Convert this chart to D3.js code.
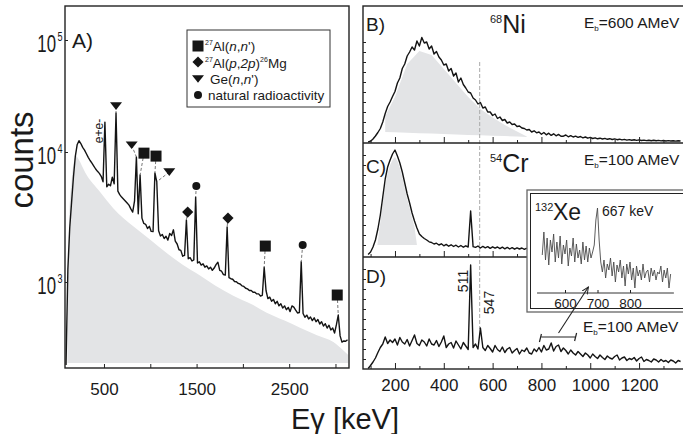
<!DOCTYPE html>
<meta charset="utf-8">
<style>
body { margin: 0; background: #fff; }
svg text { font-family: "Liberation Sans", Arial, Helvetica, sans-serif; fill: #1a1a1a; }
.spec { fill: none; stroke: #141414; stroke-width: 1.4; stroke-linejoin: round; }
.bg { fill: #e3e4e6; }
.frame { fill: none; stroke: #222; stroke-width: 1.4; }
.tick line { stroke: #222; }
.guide { stroke: #777; stroke-width: 1; stroke-dasharray: 3,2; fill: none; }
</style>
<svg width="683" height="434">
  <defs>
    <marker id="arrow" viewBox="0 0 10 10" refX="9" refY="5" markerWidth="7" markerHeight="7" orient="auto">
      <path d="M0,1 L9,5 L0,9" fill="none" stroke="#222" stroke-width="1.3"></path>
    </marker>
  </defs>
</svg>
<script src="https://d3js.org/d3.v7.min.js"></script>
<script>

// ---------- data ----------
// A) summed spectrum, 20 keV bins from 90 keV
var aStart = 90, aStep = 20;
var aCounts = [
  230, 1250, 2600, 4100, 6400, 9200, 11600, 12600, 11900, 11000,
  10400, 9700, 9100, 8600, 8200, 7800, 7400, 7100, 6850, 6500,
  5900, 18500, 5400, 5650, 5500, 6400, 5700, 22300, 5000, 4700,
  4500, 4350, 4200, 4050, 3900, 3650, 3450, 4200, 9150, 3350,
  6650, 3100, 2820, 2780, 2580, 2680, 2450, 2440, 6900, 5900,
  2480, 2260, 2320, 2160, 2250, 2100, 2360, 2280, 2520, 2060,
  1960, 1770, 1750, 1580, 1600, 3000, 1510, 1540, 1450, 1480,
  4500, 1400, 1430, 1350, 1380, 1300, 1330, 1260, 1300, 1230,
  1280, 1360, 1420, 1230, 1210, 1140, 1130, 2650, 1080, 1060,
  1050, 1010, 1005, 975, 965, 935, 925, 895, 885, 860,
  860, 835, 835, 810, 810, 780, 790, 1300, 860, 745,
  765, 710, 735, 680, 710, 655, 680, 630, 655, 612,
  638, 592, 655, 640, 608, 578, 582, 1430, 572, 535,
  556, 520, 538, 505, 530, 495, 515, 475, 495, 458,
  478, 442, 465, 428, 442, 405, 470, 557, 385, 345,
  352, 350, 360
];
// grey background shape under A
var aBgEnergy = [105, 112, 125, 150, 175, 200, 225, 300, 456, 600, 816, 1000, 1177, 1350, 1537, 1700, 1896, 2100, 2257, 2450, 2617, 2800, 2977, 3080, 3138];
var aBgCounts = [238, 900, 3000, 6000, 8400, 9300, 8800, 6900, 4950, 3700, 2680, 2110, 1670, 1355, 1120, 940, 785, 670, 580, 505, 445, 390, 345, 300, 275];
var aBgFloor = 238;

var aTicks = [500, 1000, 1500, 2000, 2500, 3000];
var aTickLabels = ["500", "", "1500", "", "2500", ""];
var aDecades = [1e3, 1e4, 1e5];
var aDecadeExp = ["3", "4", "5"];

// peak markers in A
var mkType   = ["tri", "tri", "sq", "sq", "tri", "circ", "dia", "dia", "sq", "circ", "sq"];
var mkEnergy = [630, 799, 932, 1062, 1205, 1497, 1404, 1839, 2242, 2646, 3019];
var mkCounts = [25700, 11500, 9800, 9300, 7000, 5470, 3450, 3100, 1890, 1930, 794];
var pkEnergy = [630, 850, 890, 1050, 1070, 1490, 1390, 1830, 2230, 2630, 3030];
var pkCounts = [22300, 9150, 6650, 6900, 5900, 4500, 3000, 2650, 1300, 1430, 557];

// B) C) D) 10 keV bins from 90 keV
var rStart = 90, rStep = 10;
var bCounts = [
  0, 8, 30, 60, 95, 135, 200, 285, 355, 400,
  455, 505, 590, 640, 735, 780, 860, 900, 950, 920,
  1010, 960, 1045, 990, 1000, 930, 960, 880, 905, 850,
  820, 770, 780, 710, 735, 660, 690, 600, 640, 575,
  540, 500, 490, 440, 420, 380, 395, 340, 350, 300,
  300, 265, 280, 235, 250, 215, 225, 190, 200, 175,
  180, 155, 160, 140, 135, 120, 125, 100, 112, 92,
  100, 78, 95, 72, 88, 66, 82, 62, 76, 58,
  58, 70, 52, 64, 50, 58, 46, 55, 42, 50,
  38, 46, 35, 42, 32, 38, 30, 36, 27, 33,
  25, 31, 23, 28, 21, 26, 19, 24, 18, 22,
  16, 21, 15, 19, 14, 18, 13, 17, 12, 16,
  11, 15, 10, 14, 10, 13, 9, 12, 10
];
var bBgEnergy = [160, 200, 250, 300, 350, 400, 450, 500, 550, 600, 650, 700, 740];
var bBgHi = [260, 450, 780, 910, 870, 730, 590, 450, 330, 245, 170, 105, 55];
var bBgLo = [100, 97, 92, 88, 84, 80, 75, 71, 67, 63, 59, 54, 50];

var cCounts = [
  5, 30, 80, 150, 260, 400, 580, 760, 880, 950,
  1010, 1050, 990, 920, 830, 720, 610, 520, 420, 340,
  270, 210, 185, 165, 150, 132, 125, 110, 118, 100,
  112, 92, 106, 88, 102, 85, 98, 80, 95, 78,
  92, 80, 440, 84, 76, 90, 70, 86, 72, 84,
  66, 82, 68, 80, 64, 78, 62, 76, 60, 74,
  58, 72, 60, 70, 56, 68
];
var cBgEnergy = [128, 140, 150, 160, 170, 180, 190, 200, 210, 220, 230, 240, 250, 260, 270, 280, 290];
var cBgHi = [100, 330, 520, 700, 820, 900, 950, 980, 940, 870, 780, 670, 560, 470, 370, 280, 100];
var cBgFloor = 100;

var dCounts = [
  5, 35, 70, 110, 165, 215, 250, 320, 255, 290,
  265, 300, 240, 315, 270, 250, 295, 230, 285, 340,
  255, 235, 290, 270, 230, 300, 250, 240, 285, 225,
  270, 330, 215, 250, 265, 210, 280, 240, 200, 265,
  230, 195, 1040, 215, 250, 200, 410, 215, 185, 235,
  205, 170, 235, 195, 175, 220, 165, 200, 215, 160,
  185, 205, 150, 190, 175, 210, 160, 150, 200, 175,
  215, 170, 235, 190, 200, 260, 180, 225, 240, 175,
  210, 185, 150, 190, 160, 140, 175, 150, 125, 160,
  140, 110, 150, 125, 105, 140, 115, 95, 130, 110,
  100, 125, 140, 90, 110, 120, 85, 105, 95, 115,
  80, 105, 120, 75, 95, 85, 70, 100, 90, 70,
  95, 75, 85, 65, 90, 80, 60, 85, 75
];

var rTicksMajor = [200, 400, 600, 800, 1000, 1200];
var rTicksMinor = [100, 300, 500, 700, 900, 1100, 1300];
var rYTicks = [100, 200, 300, 400, 500, 600, 700, 800, 900, 1000];

// inset 132Xe, 5 keV bins from 530 keV
var xeStart = 530, xeStep = 5;
var xeCounts = [
  45, 68, 40, 62, 35, 60, 48, 66, 38, 58,
  42, 64, 36, 55, 46, 60, 34, 52, 44, 62,
  38, 56, 42, 50, 36, 58, 40, 54, 38, 52,
  42, 48, 55, 80, 92, 60, 38, 28, 40, 22,
  36, 30, 42, 24, 38, 18, 35, 28, 40, 22,
  34, 14, 36, 26, 38, 20, 32, 12, 34, 24,
  30, 20, 36, 22, 28, 30, 18, 32, 24, 30,
  20, 28, 26, 34, 18, 30, 22, 32, 12, 26
];
var xeTicks = [600, 700, 800];

// ---------- helpers ----------
function bins(start, step, arr) {
  return arr.map(function(c, i) { return [start + i * step, c]; });
}
function rich(g, x, y, size, parts, anchor) {
  var t = g.append("text").attr("x", x).attr("y", y).style("font-size", size + "px");
  if (anchor) t.attr("text-anchor", anchor);
  parts.forEach(function(p) {
    var s = t.append("tspan").text(p.t);
    if (p.s) s.style("font-size", p.s + "px");
    if (p.dy) s.attr("dy", p.dy);
    if (p.i) s.style("font-style", "italic");
  });
  return t;
}
var triPath = "M-6,-3.8L6,-3.8L0,3.8Z";
function drawMarker(g, type, x, y) {
  if (type == "sq") g.append("rect").attr("x", x - 5.5).attr("y", y - 5.5).attr("width", 11).attr("height", 11).attr("fill", "#151515");
  else if (type == "dia") g.append("path").attr("d", d3.symbol(d3.symbolSquare, 62)()).attr("transform", "translate(" + x + "," + y + ") rotate(45)").attr("fill", "#151515");
  else if (type == "tri") g.append("path").attr("d", triPath).attr("transform", "translate(" + x + "," + y + ")").attr("fill", "#151515");
  else g.append("circle").attr("cx", x).attr("cy", y).attr("r", 4).attr("fill", "#151515");
}

var svg = d3.select("svg");

// ---------- panel A ----------
var A = {l: 65, r: 349, t: 6, b: 368};
var xA = d3.scaleLinear().domain([79, 3146]).range([A.l, A.r]);
var yA = d3.scaleLog().domain([218, 1e3, 1e4, 1e5, 2e5]).range([368, 282, 152, 40, 6]);

var gA = svg.append("g");
var aBg = aBgEnergy.map(function(e, i) { return [e, aBgCounts[i]]; });
gA.append("path").attr("class", "bg")
  .attr("d", d3.area().curve(d3.curveMonotoneX).x(function(d) { return xA(d[0]); }).y0(yA(aBgFloor)).y1(function(d) { return yA(d[1]); })(aBg));

gA.append("path").attr("class", "spec")
  .attr("d", d3.line().x(function(d) { return xA(d[0]); }).y(function(d) { return yA(d[1]); })(bins(aStart, aStep, aCounts)));

// marker guides + markers
mkType.forEach(function(t, i) {
  gA.append("line").attr("class", "guide")
    .attr("x1", xA(mkEnergy[i])).attr("y1", yA(mkCounts[i]))
    .attr("x2", xA(pkEnergy[i])).attr("y2", yA(pkCounts[i]));
});
mkType.forEach(function(t, i) { drawMarker(gA, t, xA(mkEnergy[i]), yA(mkCounts[i])); });

gA.append("text").attr("transform", "translate(" + (xA(510) - 2) + "," + yA(15400) + ") rotate(-90)")
  .attr("text-anchor", "middle").style("font-size", "12px").text("e+e-");

gA.append("rect").attr("class", "frame").attr("x", A.l).attr("y", A.t).attr("width", A.r - A.l).attr("height", A.b - A.t);

var axA = gA.append("g").attr("transform", "translate(0," + A.b + ")")
  .call(d3.axisBottom(xA).tickValues(aTicks).tickSizeInner(-4).tickSizeOuter(0).tickPadding(15)
    .tickFormat(function(d, i) { return aTickLabels[i]; }));
axA.select(".domain").remove();
axA.selectAll("text").style("font-size", "17px").attr("fill", "#1a1a1a");

var ayA = gA.append("g").attr("transform", "translate(" + A.l + ",0)")
  .call(d3.axisLeft(yA).tickValues(aDecades).tickSizeInner(-3).tickSizeOuter(0).tickFormat(""));
ayA.select(".domain").remove();
aDecades.forEach(function(v, i) {
  var g = gA.append("g").attr("transform", "translate(56," + (yA(v) + 12) + ") scale(0.7,1)");
  g.append("text").attr("text-anchor", "end").style("font-size", "24px").text("10");
  g.append("text").attr("x", 2).attr("y", -11).style("font-size", "13px").text(aDecadeExp[i]);
});

rich(gA, 72, 48, 21, [{t: "A)"}]);

// legend
var lg = gA.append("g");
lg.append("rect").attr("x", 187).attr("y", 30).attr("width", 143).attr("height", 77)
  .attr("fill", "#fff").attr("stroke", "#333").attr("stroke-width", 1);
var lgRows = [46, 62, 79, 95];
var lgTypes = ["sq", "dia", "tri", "circ"];
lgTypes.forEach(function(t, i) { drawMarker(lg, t, 198, lgRows[i]); });
rich(lg, 205, 51, 13.5, [{t: "27", s: 7, dy: -6}, {t: "Al(", dy: 6}, {t: "n", i: 1}, {t: ","}, {t: "n", i: 1}, {t: "')"}]);
rich(lg, 205, 68, 13.5, [{t: "27", s: 7, dy: -6}, {t: "Al(", dy: 6}, {t: "p", i: 1}, {t: ","}, {t: "2p", i: 1}, {t: ")"}, {t: "26", s: 7, dy: -6}, {t: "Mg", dy: 6}]);
rich(lg, 210, 84, 13.5, [{t: "Ge("}, {t: "n", i: 1}, {t: ","}, {t: "n", i: 1}, {t: "')"}]);
rich(lg, 208, 100, 13.5, [{t: "natural radioactivity"}]);

// ---------- panels B, C, D ----------
var R = {l: 363, r: 700, t: 6, b: 369, bc: 143, cd: 257};
var xR = d3.scaleLinear().domain([69, 1380]).range([363, 683]);
var yB = d3.scaleLinear().domain([0, 1100]).range([142, 32]);
var yC = d3.scaleLinear().domain([0, 1100]).range([255, 145]);
var yD = d3.scaleLinear().domain([0, 1100]).range([369, 259]);

var gR = svg.append("g");
var bBg = bBgEnergy.map(function(e, i) { return [e, bBgLo[i], bBgHi[i]]; });
gR.append("path").attr("class", "bg")
  .attr("d", d3.area().x(function(d) { return xR(d[0]); }).y0(function(d) { return yB(d[1]); }).y1(function(d) { return yB(d[2]); })(bBg));
var cBg = cBgEnergy.map(function(e, i) { return [e, cBgHi[i]]; });
gR.append("path").attr("class", "bg")
  .attr("d", d3.area().x(function(d) { return xR(d[0]); }).y0(yC(cBgFloor)).y1(function(d) { return yC(d[1]); })(cBg));

// 547 keV guide
gR.append("line").attr("x1", xR(547)).attr("x2", xR(547)).attr("y1", yB(800)).attr("y2", yD(400))
  .attr("stroke", "#aaa").attr("stroke-width", 1).attr("stroke-dasharray", "4,2");

function specLine(y) { return d3.line().x(function(d) { return xR(d[0]); }).y(function(d) { return y(d[1]); }); }
gR.append("path").attr("class", "spec").attr("d", specLine(yB)(bins(rStart, rStep, bCounts)));
gR.append("path").attr("class", "spec").attr("d", specLine(yC)(bins(rStart, rStep, cCounts)));
gR.append("path").attr("class", "spec").attr("d", specLine(yD)(bins(rStart, rStep, dCounts)));

gR.append("rect").attr("class", "frame").attr("x", R.l).attr("y", R.t).attr("width", R.r - R.l).attr("height", R.b - R.t);
gR.append("line").attr("x1", R.l).attr("x2", R.r).attr("y1", R.bc).attr("y2", R.bc).attr("stroke", "#222").attr("stroke-width", 1.4);
gR.append("line").attr("x1", R.l).attr("x2", R.r).attr("y1", R.cd).attr("y2", R.cd).attr("stroke", "#222").attr("stroke-width", 1.4);

[R.bc, R.cd, R.b].forEach(function(yy, k) {
  var mj = gR.append("g").attr("transform", "translate(0," + yy + ")")
    .call(d3.axisBottom(xR).tickValues(rTicksMajor).tickSizeInner(-6).tickSizeOuter(0).tickPadding(10)
      .tickFormat(k == 2 ? d3.format("d") : ""));
  mj.select(".domain").remove();
  mj.selectAll("text").style("font-size", "17px").attr("fill", "#1a1a1a");
  var mn = gR.append("g").attr("transform", "translate(0," + yy + ")")
    .call(d3.axisBottom(xR).tickValues(rTicksMinor).tickSizeInner(-3).tickSizeOuter(0).tickFormat(""));
  mn.select(".domain").remove();
});
[yB, yC, yD].forEach(function(y) {
  var ay = gR.append("g").attr("transform", "translate(" + R.l + ",0)")
    .call(d3.axisLeft(y).tickValues(rYTicks).tickSizeInner(-3).tickSizeOuter(0).tickFormat(""));
  ay.select(".domain").remove();
});

rich(gR, 366, 31, 19, [{t: "B)"}]);
rich(gR, 366, 173, 19, [{t: "C)"}]);
rich(gR, 366, 283, 19, [{t: "D)"}]);
rich(gR, 490, 33, 25, [{t: "68", s: 11, dy: -10}, {t: "Ni", dy: 10}]);
rich(gR, 490, 172, 25, [{t: "54", s: 11, dy: -10}, {t: "Cr", dy: 10}]);
rich(gR, 584, 28, 15.5, [{t: "E"}, {t: "b", s: 8, dy: 3}, {t: "=600 AMeV", dy: -3}]);
rich(gR, 584, 165, 15.5, [{t: "E"}, {t: "b", s: 8, dy: 3}, {t: "=100 AMeV", dy: -3}]);
rich(gR, 583, 332, 15.5, [{t: "E"}, {t: "b", s: 8, dy: 3}, {t: "=100 AMeV", dy: -3}]);

gR.append("text").attr("transform", "translate(" + (xR(511) - 3) + "," + yD(880) + ") rotate(-90)")
  .attr("text-anchor", "middle").style("font-size", "14px").text("511");
gR.append("text").attr("transform", "translate(" + (xR(547) + 14) + "," + yD(665) + ") rotate(-90)")
  .attr("text-anchor", "middle").style("font-size", "14px").text("547");

// bracket + arrow in D
var bx1 = xR(800), bx2 = xR(940), by = yD(320);
gR.append("path").attr("d", "M" + (bx1 - 2) + "," + (by + 5) + "L" + bx1 + "," + (by - 3) + "M" + bx1 + "," + by + "L" + bx2 + "," + by + "M" + (bx2 - 1) + "," + (by + 4) + "L" + (bx2 + 1) + "," + (by - 4))
  .attr("stroke", "#222").attr("fill", "none").attr("stroke-width", 1.2);

// ---------- inset ----------
var xXe = d3.scaleLinear().domain([600, 800]).range([565, 630]);
var yXe = d3.scaleLinear().domain([0, 100]).range([300, 200]);
var gI = svg.append("g");
gI.append("rect").attr("x", 527).attr("y", 190).attr("width", 180).attr("height", 122)
  .attr("fill", "#fff").attr("stroke", "#666").attr("stroke-width", 1.3);
gI.append("rect").attr("x", 530.5).attr("y", 193.5).attr("width", 180).attr("height", 115)
  .attr("fill", "none").attr("stroke", "#222").attr("stroke-width", 1);
gI.append("path").attr("fill", "none").attr("stroke", "#4a4a4a").attr("stroke-width", 0.9)
  .attr("d", d3.line().x(function(d) { return xXe(d[0]); }).y(function(d) { return yXe(d[1]); })(bins(xeStart, xeStep, xeCounts)));
gI.append("line").attr("x1", xXe(514)).attr("x2", xXe(935)).attr("y1", 293).attr("y2", 293).attr("stroke", "#333");
var axI = gI.append("g").attr("transform", "translate(0,293)")
  .call(d3.axisBottom(xXe).tickValues(xeTicks).tickSizeInner(-3).tickSizeOuter(0).tickPadding(5).tickFormat(d3.format("d")));
axI.select(".domain").remove();
axI.selectAll("text").style("font-size", "13.5px").attr("fill", "#1a1a1a");
rich(gI, 535, 211, 11, [{t: "132"}]);
rich(gI, 553, 220, 23, [{t: "Xe"}]);
rich(gI, 602, 216, 14, [{t: "667 keV"}]);

svg.append("line").attr("x1", xR(870)).attr("y1", yD(360)).attr("x2", xXe(672)).attr("y2", yXe(13))
  .attr("stroke", "#222").attr("stroke-width", 1.1).attr("marker-end", "url(#arrow)");

// ---------- axis titles ----------
svg.append("text").attr("transform", "translate(33,160) rotate(-90)").attr("text-anchor", "middle")
  .style("font-size", "33px").text("counts");
svg.append("text").attr("x", 345).attr("y", 429).attr("text-anchor", "middle")
  .style("font-size", "29px").text("Eγ [keV]");

</script>
